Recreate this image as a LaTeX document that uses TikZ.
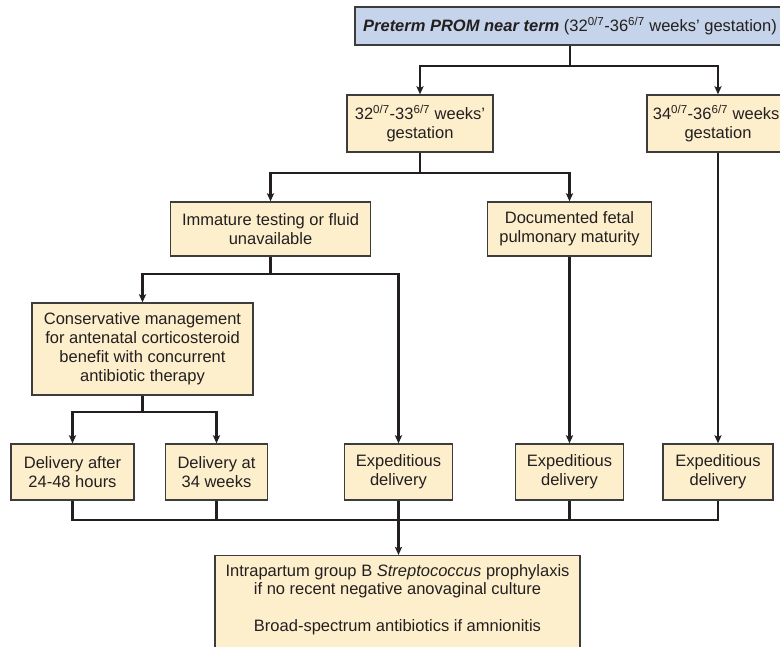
\documentclass[tikz,border=0pt]{standalone}
\usepackage{fontspec}
\setmainfont{Liberation Sans}
\usetikzlibrary{arrows.meta}
\definecolor{boxfill}{RGB}{253,239,204}
\definecolor{topfill}{RGB}{197,212,234}
\definecolor{edgegray}{RGB}{60,60,60}
\definecolor{ink}{RGB}{35,31,32}
\begin{document}
\begin{tikzpicture}[x=1pt,y=-1pt,
  box/.style={draw=edgegray, line width=1.3pt, fill=boxfill, align=center, inner sep=0pt,
    font=\fontsize{16.5}{19}\selectfont, text=ink},
  conn/.style={draw=ink, line width=2.4pt},
  arr/.style={conn, -{Stealth[length=8pt,width=7pt,inset=1.5pt]}}]
\useasboundingbox (0,0) rectangle (780,646);

% boxes
\node[box, fill=topfill, minimum width=430pt, minimum height=38pt] (top) at (570,26)
  {\textbf{\textit{Preterm PROM near term}} (32\textsuperscript{0/7}-36\textsuperscript{6/7} weeks' gestation)};
\node[box, minimum width=146pt, minimum height=57pt] (b32) at (420,123.5)
  {32\textsuperscript{0/7}-33\textsuperscript{6/7} weeks'\\gestation};
\node[box, minimum width=142pt, minimum height=57pt] (b34) at (718,123.5)
  {34\textsuperscript{0/7}-36\textsuperscript{6/7} weeks'\\gestation};
\node[box, minimum width=200pt, minimum height=54pt] (imm) at (270.5,229)
  {Immature testing or fluid\\unavailable};
\node[box, minimum width=164pt, minimum height=54pt] (doc) at (569.5,229)
  {Documented fetal\\pulmonary maturity};
\node[box, minimum width=221pt, minimum height=92pt] (cons) at (142.5,349)
  {Conservative management\\for antenatal corticosteroid\\benefit with concurrent\\antibiotic therapy};
\node[box, minimum width=123pt, minimum height=56pt] (d1) at (72.5,472)
  {Delivery after\\24-48 hours};
\node[box, minimum width=102pt, minimum height=56pt] (d2) at (216.5,472)
  {Delivery at\\34 weeks};
\node[box, minimum width=108pt, minimum height=56pt] (e1) at (398.5,472)
  {Expeditious\\delivery};
\node[box, minimum width=108pt, minimum height=56pt] (e2) at (569.5,472)
  {Expeditious\\delivery};
\node[box, minimum width=110pt, minimum height=56pt] (e3) at (718,472)
  {Expeditious\\delivery};
\node[box, anchor=north, minimum width=365pt, inner ysep=9pt, text depth=30pt] (fin) at (397.5,555)
  {Intrapartum group B \textit{Streptococcus} prophylaxis\\[-1pt]if no recent negative anovaginal culture\\[18pt]Broad-spectrum antibiotics if amnionitis};

% junctions
\coordinate (j1) at (570,66);
\coordinate (j2) at (420,173);
\coordinate (j3) at (270.5,274);
\coordinate (j4) at (142.5,412);
\coordinate (j5) at (398.5,520);

% connectors
\draw[conn] (top.south) -- (j1);
\draw[arr] (j1) -| (b32.north);
\draw[arr] (j1) -| (b34.north);
\draw[conn] (b32.south) -- (j2);
\draw[arr] (j2) -| (imm.north);
\draw[arr] (j2) -| (doc.north);
\draw[conn] (imm.south) -- (j3);
\draw[arr] (j3) -| (cons.north);
\draw[arr] (j3) -| (e1.north);
\draw[conn] (cons.south) -- (j4);
\draw[arr] (j4) -| (d1.north);
\draw[arr] (j4) -| (d2.north);
\draw[arr] (doc.south) -- (e2.north);
\draw[arr] (b34.south) -- (e3.north);
\draw[conn] (d1.south) -- (d1.south |- j5) -- (e3.south |- j5) -- (e3.south);
\draw[conn] (d2.south) -- (d2.south |- j5);
\draw[conn] (e2.south) -- (e2.south |- j5);
\draw[arr] (e1.south) -- (e1.south |- fin.north);
\end{tikzpicture}
\end{document}
